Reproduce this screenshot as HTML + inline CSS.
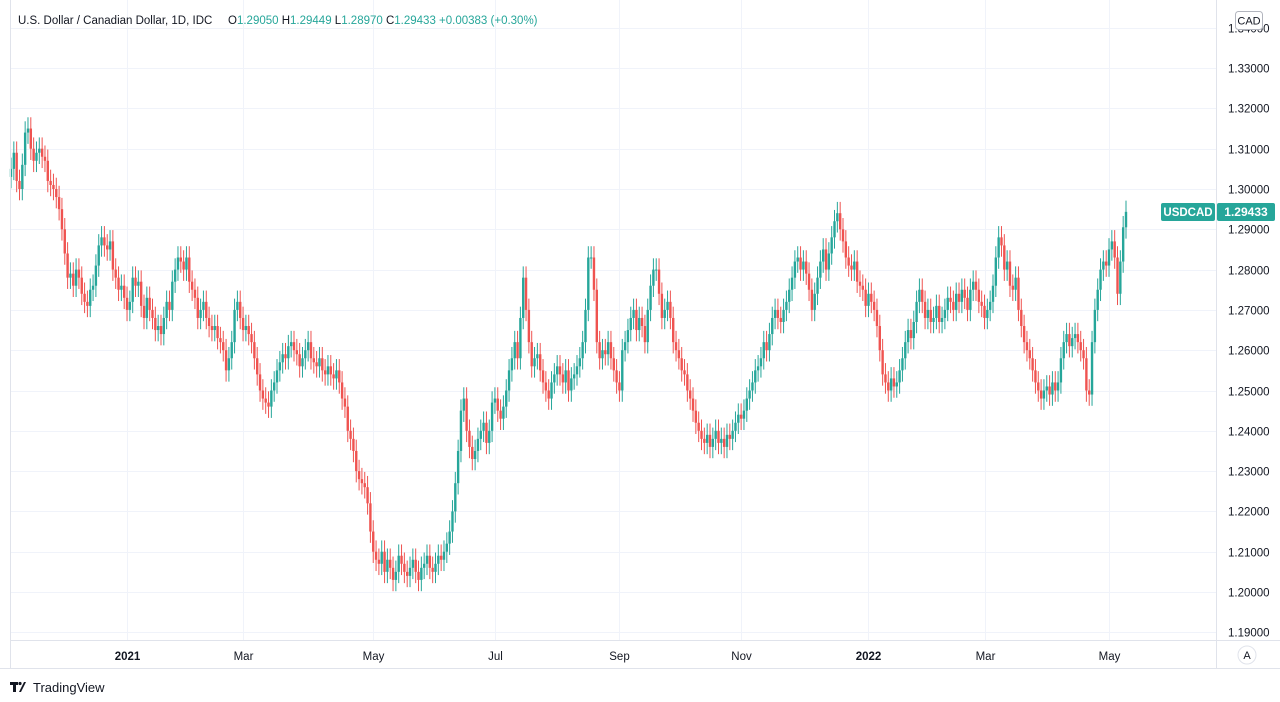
<!DOCTYPE html>
<html><head><meta charset="utf-8">
<style>
html,body{margin:0;padding:0;background:#fff;}
body{width:1280px;height:702px;overflow:hidden;font-family:"Liberation Sans",sans-serif;position:relative;}
svg{position:absolute;left:0;top:0;}
</style></head>
<body>
<svg id="chart" width="1280" height="702" xmlns="http://www.w3.org/2000/svg">
  <rect x="0" y="0" width="1280" height="702" fill="#fff"/>
  <g id="grid"></g>
  <g id="candles"></g>
  <line x1="1216.5" y1="0" x2="1216.5" y2="668" stroke="#e0e3eb"/>
  <line x1="10" y1="640.5" x2="1280" y2="640.5" stroke="#e0e3eb"/>
  <line x1="10.5" y1="0" x2="10.5" y2="668" stroke="#e0e3eb"/>
  <line x1="0" y1="668.5" x2="1280" y2="668.5" stroke="#e0e3eb"/>
  <g id="yaxis"></g>
  <g id="xaxis"></g>
  <g font-size="11.5">
    <text x="18" y="24" fill="#131722">U.S. Dollar / Canadian Dollar, 1D, IDC</text>
    <text x="228" y="24" fill="#131722">O<tspan fill="#26a69a">1.29050</tspan> H<tspan fill="#26a69a">1.29449</tspan> L<tspan fill="#26a69a">1.28970</tspan> C<tspan fill="#26a69a">1.29433 +0.00383 (+0.30%)</tspan></text>
  </g>
  <g>
    <rect x="1235.5" y="11.5" width="27" height="18" rx="3" fill="#fff" stroke="#b2b5be"/>
    <text x="1249" y="24.5" font-size="11" text-anchor="middle" fill="#131722">CAD</text>
  </g>
  <g>
    <rect x="1161" y="203" width="54" height="18" rx="2" fill="#26a69a"/>
    <text x="1188" y="216" font-size="11.5" font-weight="bold" text-anchor="middle" fill="#fff">USDCAD</text>
    <rect x="1217" y="203" width="58" height="18" rx="2" fill="#26a69a"/>
    <text x="1246" y="216" font-size="12" font-weight="bold" text-anchor="middle" fill="#fff">1.29433</text>
  </g>
  <g>
    <circle cx="1247" cy="655" r="9" fill="#fff" stroke="#e0e3eb"/>
    <text x="1247" y="659" font-size="11" text-anchor="middle" fill="#131722">A</text>
  </g>
  <g>
    <rect x="10" y="682" width="8" height="3" fill="#131722"/>
    <rect x="13" y="682" width="3" height="10" fill="#131722"/>
    <path d="M19 692 L24 682 L26 682 L21 692 Z" fill="#131722"/>
    <circle cx="20" cy="683.5" r="1.6" fill="#131722"/>
    <text x="33" y="692" font-size="13" fill="#131722">TradingView</text>
  </g>
</svg>
<script>
const closes = [
1.305,1.309,1.302,1.300,1.306,1.314,
1.315,1.310,1.307,1.309,
1.310,1.308,1.307,1.302,1.301,1.300,1.298,
1.295,1.290,1.284,1.278,1.279,
1.276,1.280,1.278,1.274,1.272,1.271,1.275,
1.276,1.281,1.286,1.288,
1.286,1.285,1.287,1.280,1.278,1.275,1.276,1.273,
1.270,1.272,1.278,1.276,1.277,1.271,1.268,1.273,1.270,1.268,
1.265,1.266,1.264,1.268,1.272,1.270,1.277,1.280,1.283,1.282,
1.280,1.283,1.277,1.275,1.273,1.268,1.270,1.272,1.268,1.266,
1.265,1.266,1.263,1.262,1.260,1.255,1.258,1.262,1.270,1.272,
1.268,1.265,1.266,1.264,1.262,1.258,1.254,1.250,1.248,1.247,1.246,1.250,
1.252,1.255,1.257,1.259,1.258,1.261,1.262,1.260,1.259,1.256,1.258,
1.260,1.262,1.258,1.257,1.256,1.258,1.255,1.254,1.256,1.254,
1.253,1.255,1.252,1.248,1.246,1.240,1.238,
1.235,1.230,1.228,1.227,1.226,1.222,1.215,1.210,1.208,
1.207,1.210,1.205,1.208,1.206,1.203,1.205,1.209,1.207,1.205,1.204,1.206,1.208,1.205,1.203,1.206,1.207,1.209,1.206,1.205,1.207,1.209,1.208,1.210,1.212,
1.215,1.220,1.227,1.235,1.245,
1.248,1.240,1.236,1.233,1.235,1.238,1.240,1.242,1.237,1.240,1.247,
1.248,1.245,1.243,1.246,1.250,1.255,1.258,1.262,1.258,1.268,1.278,
1.270,1.262,1.256,1.258,1.259,1.255,1.252,1.250,1.248,1.252,1.254,
1.256,1.254,1.252,1.255,1.250,1.253,1.254,1.256,1.258,1.262,1.270,1.283,
1.283,1.275,1.262,1.258,1.260,1.259,1.262,1.258,1.255,1.252,1.250,1.260,
1.262,1.265,1.268,1.270,1.265,1.268,1.266,1.262,1.270,1.276,1.280,
1.280,1.274,1.268,1.270,1.272,1.268,1.262,1.260,1.258,1.255,1.254,1.250,
1.248,1.245,1.242,1.240,1.238,1.237,1.239,1.236,1.238,1.240,1.237,1.238,
1.236,1.239,1.238,1.240,1.242,1.244,1.243,1.245,1.248,1.250,1.252,
1.255,1.256,1.258,1.262,1.260,1.264,1.268,1.270,1.268,1.267,1.270,
1.272,1.275,1.278,1.282,1.283,1.280,1.282,1.279,1.275,1.270,1.274,
1.278,1.282,1.285,1.280,1.284,1.288,1.292,1.294,1.290,1.287,1.283,
1.281,1.280,1.282,1.277,1.276,1.275,1.271,1.274,1.272,1.270,1.266,1.260,
1.254,1.252,1.250,1.253,1.251,1.252,1.255,1.258,1.262,1.265,1.263,
1.267,1.272,1.275,1.272,1.268,1.270,1.267,1.268,1.271,1.267,1.268,
1.270,1.273,1.272,1.270,1.274,1.272,1.275,1.273,1.270,1.275,1.277,
1.275,1.272,1.271,1.268,1.270,1.272,1.276,1.283,1.288,
1.286,1.280,1.282,1.276,1.275,1.278,1.270,1.266,1.262,
1.260,1.258,1.255,1.252,1.250,1.248,1.250,1.251,1.249,1.252,1.250,1.252,
1.258,1.262,1.264,1.261,1.263,1.264,1.262,1.260,1.258,1.250,1.249,
1.262,1.270,1.275,1.280,1.282,1.281,1.285,1.287,1.283,1.274,1.282,1.2905,1.29433
];
const firstOpen = 1.303;
const priceTicks = [1.19,1.20,1.21,1.22,1.23,1.24,1.25,1.26,1.27,1.28,1.29,1.30,1.31,1.32,1.33,1.34];
const timeLabels = ["2021","Mar","May","Jul","Sep","Nov","2022","Mar","May"];
const timeLabelIndex = [41,82,128,171,215,258,303,344,388];
const boldLabels = ["2021","2022"];

const NS = "http://www.w3.org/2000/svg";
const x0 = 11, x1 = 1126;
function xScale(i){ return x0 + i*(x1-x0)/(closes.length-1); }
function yScale(p){ return 189 + (1.30 - p)*4030; }
function mk(tag, attrs, parent){ const e=document.createElementNS(NS,tag); for(const k in attrs) e.setAttribute(k,attrs[k]); parent.appendChild(e); return e; }

const grid = document.getElementById('grid');
const yaxis = document.getElementById('yaxis');
priceTicks.forEach(p=>{
  const y = Math.round(yScale(p))+0.5;
  const g = mk('line',{x1:10,x2:1216,y1:y,y2:y,stroke:'#f0f3fa'},grid);
  
  
  const t = mk('text',{x:1228,y:y+4,'font-size':11.5,fill:'#131722'},yaxis);
  t.textContent = p.toFixed(5);
  
  
});
const xaxis = document.getElementById('xaxis');
timeLabels.forEach((lab,k)=>{
  const x = Math.round(xScale(timeLabelIndex[k]))+0.5;
  const g = mk('line',{x1:x,x2:x,y1:0,y2:640,stroke:'#f0f3fa'},grid);
  
  
  const t = mk('text',{x:x,y:660,'font-size':11.5,'text-anchor':'middle',fill:'#131722','font-weight':boldLabels.includes(lab)?'bold':'normal'},xaxis);
  t.textContent = lab;
  
  
});
const cg = document.getElementById('candles');
closes.forEach((c,i)=>{
  const o = i===0 ? firstOpen : closes[i-1];
  const up = c >= o;
  const col = up ? '#26a69a' : '#ef5350';
  const hi = Math.max(o,c)+0.0028, lo = Math.min(o,c)-0.0028;
  const x = xScale(i);
  const g = mk('g',{},cg);
  
  
  mk('line',{x1:x,x2:x,y1:yScale(hi),y2:yScale(lo),stroke:col,'stroke-width':1},g);
  const yt = yScale(Math.max(o,c)), yb = yScale(Math.min(o,c));
  mk('rect',{x:x-1.2,y:yt,width:2.4,height:Math.max(1,yb-yt),fill:col},g);
});
</script>
</body></html>
